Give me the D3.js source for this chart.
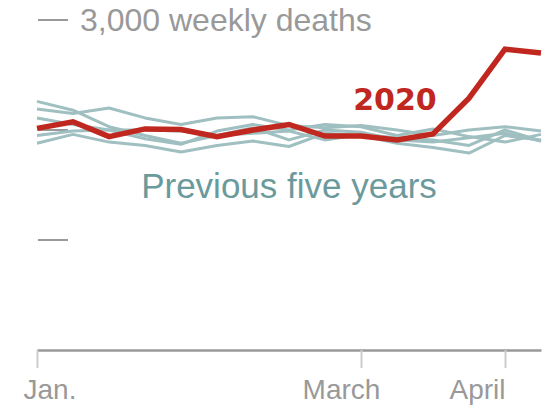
<!DOCTYPE html>
<html>
<head>
<meta charset="utf-8">
<script src="https://cdn.jsdelivr.net/npm/d3@7"></script>
<style>
  body { margin: 0; background: #fff; }
  svg { display: block; font-family: "Liberation Sans", Arial, sans-serif; }
</style>
</head>
<body>
<svg id="chart"></svg>
<script>
// weeks since Jan. 1
const weeks = d3.range(15);

// weekly deaths, 2020
const deaths2020 = [2015, 2075, 1940, 2010, 2005, 1940, 2000, 2050, 1945, 1945, 1910, 1965, 2290, 2735, 2700];

// weekly deaths, previous five years
const prev1 = [2260, 2180, 2030, 1950, 1880, 1950, 2020, 1910, 2000, 1980, 1910, 1890, 1930, 1970, 1900];
const prev2 = [2190, 2150, 2200, 2110, 2050, 2110, 2120, 2040, 2020, 2040, 2000, 1950, 2000, 2030, 1990];
const prev3 = [2110, 2050, 2000, 1920, 1870, 1990, 2050, 2000, 2050, 2030, 1950, 2010, 1940, 1890, 1960];
const prev4 = [1950, 1990, 2000, 2000, 1990, 1950, 1970, 1990, 1910, 1960, 1930, 1910, 1860, 2000, 1900];
const prev5 = [1880, 1960, 1890, 1860, 1800, 1860, 1900, 1850, 1970, 1950, 1880, 1840, 1790, 1950, 1910];
const previous = [prev1, prev2, prev3, prev4, prev5];

const yTicks = [1000, 2000, 3000];
const xTicks = [0, 9, 13];
const xTickLabels = ["Jan.", "March", "April"];

const width = 554, height = 410;
const margin = {top: 20, right: 13, bottom: 60, left: 37};

const svg = d3.select("#chart")
    .attr("width", width)
    .attr("height", height);

const x = d3.scaleLinear()
    .domain([0, 14])
    .range([margin.left, width - margin.right]);

const y = d3.scaleLinear()
    .domain([0, 3000])
    .range([height - margin.bottom, margin.top]);

// y ticks: short dashes, only the top one labelled
const yg = svg.append("g");
yg.selectAll("line")
  .data(yTicks)
  .join("line")
    .attr("x1", margin.left + 1)
    .attr("x2", margin.left + 31)
    .attr("y1", d => y(d))
    .attr("y2", d => y(d))
    .attr("stroke", "#999")
    .attr("stroke-width", 2);
yg.append("text")
    .attr("x", margin.left + 43)
    .attr("y", y(3000) + 11)
    .attr("fill", "#999")
    .attr("font-size", 32)
    .text(d3.format(",")(3000) + " weekly deaths");

// x axis
const xAxis = g => g
    .attr("transform", `translate(0,${y(0)})`)
    .call(d3.axisBottom(x)
        .tickValues(xTicks)
        .tickFormat((d, i) => xTickLabels[i])
        .tickSize(18)
        .tickSizeOuter(0)
        .tickPadding(11))
    .call(g => g.select(".domain")
        .attr("stroke", "#999")
        .attr("stroke-width", 2.5))
    .call(g => g.selectAll(".tick line")
        .attr("stroke", "#ccc")
        .attr("stroke-width", 2))
    .call(g => g.selectAll(".tick text")
        .attr("fill", "#999")
        .attr("font-size", 28)
        .attr("font-family", "Liberation Sans, Arial, sans-serif")
        .attr("text-anchor", (d, i) => ["start", "middle", "end"][i])
        .attr("dx", (d, i) => [-14, -20, 0][i]));

svg.append("g").call(xAxis);

const line = d3.line()
    .x((d, i) => x(weeks[i]))
    .y(d => y(d));

// previous years
svg.append("g")
  .selectAll("path")
  .data(previous)
  .join("path")
    .attr("d", line)
    .attr("fill", "none")
    .attr("stroke", "#9fbfc1")
    .attr("stroke-width", 3)
    .attr("stroke-linejoin", "round");

// 2020
svg.append("path")
    .datum(deaths2020)
    .attr("d", line)
    .attr("fill", "none")
    .attr("stroke", "#c0281f")
    .attr("stroke-width", 5.5)
    .attr("stroke-linejoin", "miter");

// labels
svg.append("text")
    .attr("x", 395)
    .attr("y", 110)
    .attr("text-anchor", "middle")
    .attr("fill", "#c0281f")
    .attr("font-size", 30)
    .attr("font-weight", "bold")
    .attr("font-family", "DejaVu Sans, sans-serif")
    .text("2020");

svg.append("text")
    .attr("x", 289)
    .attr("y", 198)
    .attr("text-anchor", "middle")
    .attr("fill", "#6b9a9c")
    .attr("font-size", 35)
    .text("Previous five years");
</script>
</body>
</html>
